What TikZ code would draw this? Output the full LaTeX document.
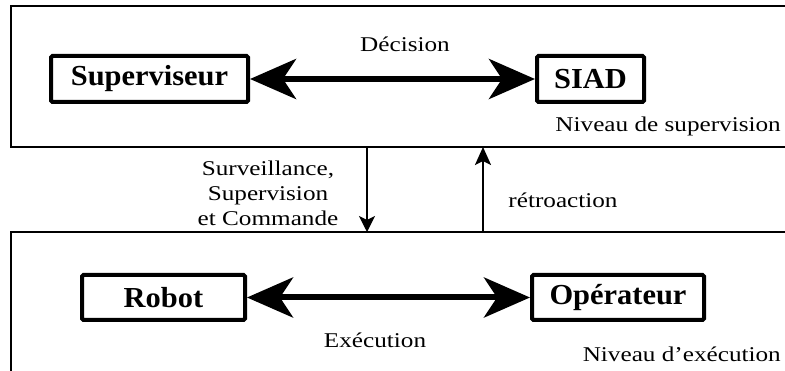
\documentclass[tikz,border=0pt]{standalone}
\usepackage{fontspec}
\setmainfont{Liberation Serif}[FakeStretch=1.2]
\newfontfamily\boxfont{Liberation Serif}[FakeStretch=1.05]
\usetikzlibrary{arrows.meta}
\begin{document}
\begin{tikzpicture}[x=1pt,y=-1pt,
  frame/.style={line width=1.3pt},
  agent/.style={draw,line width=4pt,rounded corners=1.5pt,inner sep=0pt,
    font=\boxfont\bfseries\fontsize{29}{32}\selectfont},
  lab/.style={inner sep=0pt,font=\fontsize{21}{25}\selectfont},
  bigarrow/.style={line width=6pt,{Stealth[length=46pt,width=40pt,inset=13pt]}-{Stealth[length=46pt,width=40pt,inset=13pt]}},
  downarrow/.style={line width=1.3pt,-{Stealth[length=16pt,width=16pt,inset=4pt]}},
  uparrow/.style={line width=2.6pt,-{Stealth[length=18pt,width=16pt,inset=4pt]}}]
\useasboundingbox (0,0) rectangle (785,371);
% frames
\draw[frame] (790,6) -- (11,6) -- (11,147) -- (790,147);
\draw[frame] (790,232) -- (11,232) -- (11,380);
\coordinate (dtop) at (367,147);
\coordinate (dbot) at (367,232);
\coordinate (utop) at (483,147);
\coordinate (ubot) at (483,232);
% agents
\node[agent,minimum width=197pt,minimum height=46pt] (sup) at (149.5,79) {Superviseur};
\node[agent,minimum width=107pt,minimum height=46pt] (siad) at (590.5,79) {SIAD};
\node[agent,minimum width=163pt,minimum height=45pt] (rob) at (163.5,297.5) {Robot};
\node[agent,minimum width=172pt,minimum height=45pt] (op) at (618,297.5) {Opérateur};
% arrows
\draw[bigarrow] (sup.east) -- (siad.west);
\draw[bigarrow] (rob.east) -- (op.west);
\draw[downarrow] (dtop) -- (dbot);
\draw[uparrow] (ubot) -- (utop);
% labels
\node[lab] (dec) at (405,44) {Décision};
\node[lab,anchor=base east] (nsup) at (781,132) {Niveau de supervision};
\node[lab,align=center] (surv) at (268,193) {Surveillance,\\Supervision\\et Commande};
\node[lab] (retro) at (563,200) {rétroaction};
\node[lab] (exe) at (375,340) {Exécution};
\node[lab,anchor=base east] (nexe) at (781,362) {Niveau d’exécution};
\end{tikzpicture}
\end{document}
